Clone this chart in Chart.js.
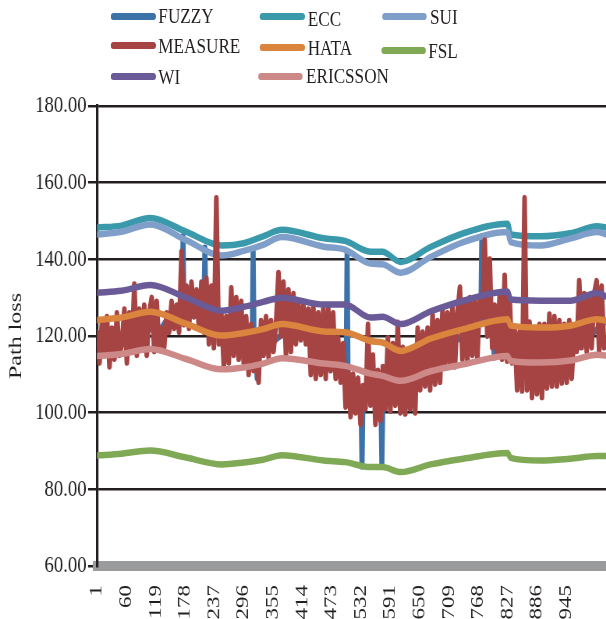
<!DOCTYPE html>
<html><head><meta charset="utf-8">
<script src="https://cdn.jsdelivr.net/npm/chart.js@4.4.1/dist/chart.umd.min.js"></script>
<style>
html,body{margin:0;padding:0;background:#fff;overflow:hidden;width:606px;height:619px;}
#wrap{position:absolute;left:0;top:0;width:777px;height:619px;transform:scaleX(0.78);transform-origin:0 0;}
#c{position:absolute;left:0;top:0;}
.sw{position:absolute;height:7px;width:57.7px;border-radius:3.5px;}
.lt{position:absolute;font-family:'Liberation Serif',serif;font-size:22px;line-height:22px;color:#231f20;white-space:nowrap;}
</style></head><body>
<div id="wrap"><canvas id="c" width="777" height="619" style="width:777px;height:619px"></canvas><div id="legend"></div></div>
<script>
// ---------- data ----------
const xTicks = [1,60,119,178,237,296,355,414,473,532,591,650,709,768,827,886,945];
const yTicks = [60,80,100,120,140,160,180];

const smoothX = [1,50,108,180,252,296,335,373,457,500,551,575,612,672,738,827,833,893,953,1007,1025];
const ecc      = [148.3,148.8,150.8,147.2,143.6,144.2,146.0,147.7,145.5,144.8,142.0,142.0,139.3,143.2,146.8,149.3,146.5,146.0,146.8,148.6,148.3];
const sui      = [146.5,147.2,149.1,145.0,141.0,142.2,143.8,145.8,143.3,142.5,138.9,138.7,136.5,140.6,144.5,147.1,144.5,143.6,145.4,147.1,146.5];
const wi       = [131.3,131.8,133.3,130.0,126.6,127.6,128.9,130.0,128.2,128.2,124.8,125.0,123.1,126.4,129.2,131.6,129.5,129.2,129.2,131.2,130.3];
const hata     = [124.2,124.8,126.3,123.2,120.1,120.8,121.8,123.1,121.2,121.0,118.7,118.3,116.1,119.3,121.8,124.4,122.7,122.2,122.7,124.4,124.0];
const ericsson = [114.8,115.3,116.6,114.0,111.3,111.8,112.8,114.2,112.8,112.2,110.2,109.6,108.3,110.8,112.6,114.8,113.5,113.1,113.6,115.1,114.9];
const fsl      = [88.8,89.3,90.1,88.3,86.5,87.0,87.7,88.9,87.5,87.1,85.8,85.8,84.5,86.5,88.0,89.5,88.2,87.5,88.0,88.7,88.7];

// measured samples, one every 5 points starting at point 1
const measureStart = 1, measureStep = 5;
const measure = [
 121,113,124,116,125,112,122,114,126,115,
 118,127,113,126,116,133.5,115,127,117,128,
 115,126,130,116,129,117,122,117,126,121,
 129,122,128,121,142,123,133,122,134,125,
 132,122,134,121,135,118,133,117,156,118,
 126,112,125,113,132.5,115,130,114,129,113,
 125,110,123,111,121,108,124,115,125,114.5,
 124,116,123,136.5,120,134,115,132,116,131,
 118,128.5,119,128,118,127,110,128,109,126,
 110,127,109,127.5,111,126,109,119.5,108,118,
 101.5,112,99,110,100,109,97,107,101,123,
 102,115,97,111,98,112,101,119.5,100.5,118,
 102,123.5,100,117,99.7,116,101,117,100,122,
 106,121,107,122,106,125.7,107.5,124,108,127,
 112,126,113,127.5,112,126,132.7,114,129,113.5,
 130,115,129,114,130,125,145,120,140,117,
 128,115,131,114,135.8,113.5,130,113,122,106,
 121,105.7,156,106,123.6,104,122,105,123,104,
 123,106.5,125.7,107,125,107,124,107.8,123,108,
 124,109,122,116,134.4,117,131,116,130,117,
 131,134.4,116,133,117
];

const fuzzyX = [1,40,108,122,124,126,140,172,174,176,216,218,220,252,296,313,315,317,321,323,325,360,400,460,502,504,506,532,534,536,572,574,576,612,672,738,773,775,777,798,800,802,830,870,960,1025];
const fuzzy  = [118,120,122,121,116.5,121,124,126,146,126,127,143,127,120,120,117,142.5,117,115,109,115,119,123,118,108,142,108,104,86,104,104,86,104,108,115,120,124,146,124,122,114.4,122,122,114,116,124];

const names = ['FUZZY','ECC','SUI','MEASURE','HATA','FSL','WI','ERICSSON'];
const colors = ['#3d72a9','#3a9aab','#7f9ec9','#a64343','#da843e','#80a956','#6a5a97','#cc8988'];

// ---------- build ----------
const pts = (xs, ys) => ys.map((y, i) => ({x: xs[i], y}));
const measureX = measure.map((_, i) => measureStart + measureStep * i);
const seriesPts = {
  FUZZY: pts(fuzzyX, fuzzy),
  ECC: pts(smoothX, ecc),
  SUI: pts(smoothX, sui),
  MEASURE: pts(measureX, measure),
  HATA: pts(smoothX, hata),
  FSL: pts(smoothX, fsl),
  WI: pts(smoothX, wi),
  ERICSSON: pts(smoothX, ericsson)
};
const smoothNames = ['ECC','SUI','HATA','FSL','WI','ERICSSON'];
const datasets = names.map((n, i) => ({
  label: n,
  data: seriesPts[n],
  borderColor: colors[i],
  backgroundColor: colors[i],
  borderWidth: n === 'MEASURE' ? 6 : 6.5,
  pointRadius: 0,
  tension: smoothNames.includes(n) ? 0.4 : 0,
  cubicInterpolationMode: smoothNames.includes(n) ? 'monotone' : 'default',
  borderJoinStyle: 'round',
  borderCapStyle: 'round',
  fill: false,
  order: names.length - i
}));

const serif = "'Liberation Serif', 'Times New Roman', serif";
new Chart(document.getElementById('c'), {
  type: 'line',
  data: {datasets},
  options: {
    responsive: false,
    animation: false,
    devicePixelRatio: 1,
    layout: {padding: {top: 106, left: 0, right: 0, bottom: 0}},
    plugins: {legend: {display: false}, tooltip: {enabled: false}},
    scales: {
      x: {
        type: 'linear', min: 1, max: 1025, z: 1,
        afterBuildTicks: s => { s.ticks = xTicks.map(v => ({value: v})); },
        afterFit: s => { s.height = 53; },
        grid: {display: false, drawTicks: false},
        border: {display: true, color: '#9a9b9d', width: 10},
        ticks: {autoSkip: false, maxRotation: 90, minRotation: 90, padding: 19, color: '#231f20',
                font: {family: serif, size: 23}, callback: v => String(v)}
      },
      y: {
        min: 60, max: 180,
        afterBuildTicks: s => { s.ticks = yTicks.map(v => ({value: v})); },
        afterFit: s => { s.width = 124.4; },
        grid: {color: '#231f20', lineWidth: 2.5, tickLength: 11.5, tickColor: '#231f20', tickWidth: 2.5},
        border: {color: '#231f20', width: 3.2},
        ticks: {padding: 2, color: '#231f20', font: {family: serif, size: 24}, callback: v => Number(v).toFixed(2)},
        title: {display: true, text: 'Path loss', color: '#231f20', font: {family: serif, size: 24}, padding: {top: 6, bottom: 0}}
      }
    }
  }
});

// ---------- legend (HTML text) ----------
const legendLayout = {
  FUZZY:    {sx: 141.9, sy: 16,   tx: 203,   ty: 16},
  ECC:      {sx: 333.3, sy: 16,   tx: 394.5, ty: 19},
  SUI:      {sx: 489.7, sy: 16,   tx: 551.3, ty: 17},
  MEASURE:  {sx: 141.9, sy: 45.7, tx: 203,   ty: 46},
  HATA:     {sx: 333.3, sy: 47.7, tx: 394.5, ty: 47.5},
  FSL:      {sx: 488.5, sy: 50,   tx: 549,   ty: 50.5},
  WI:       {sx: 141.9, sy: 76,   tx: 203,   ty: 77},
  ERICSSON: {sx: 330.8, sy: 76,   tx: 392.3, ty: 76}
};
const lg = document.getElementById('legend');
names.forEach((n, i) => {
  const L = legendLayout[n];
  const sw = document.createElement('div');
  sw.className = 'sw';
  sw.style.left = L.sx + 'px';
  sw.style.top = (L.sy - 3.5) + 'px';
  sw.style.background = colors[i];
  lg.appendChild(sw);
  const t = document.createElement('div');
  t.className = 'lt';
  t.style.left = L.tx + 'px';
  t.style.top = (L.ty - 11) + 'px';
  t.textContent = n;
  lg.appendChild(t);
});
</script>
</body></html>
